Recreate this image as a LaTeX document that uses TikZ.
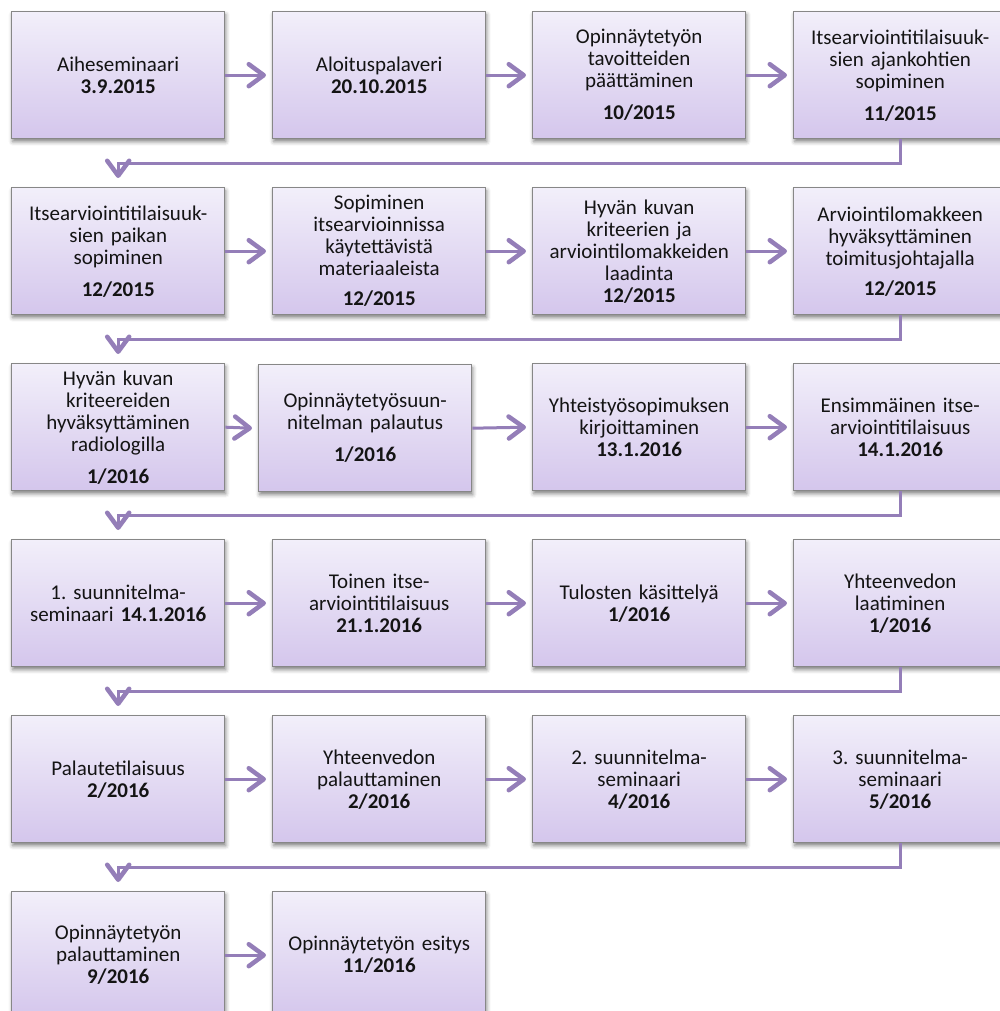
\documentclass[tikz,border=0pt]{standalone}
\usepackage{fontspec}
\setmainfont{Carlito}
\frenchspacing
\usetikzlibrary{arrows.meta,shadows.blur}
\definecolor{boxtop}{RGB}{242,239,250}
\definecolor{boxbot}{RGB}{212,198,236}
\definecolor{boxline}{RGB}{135,135,135}
\definecolor{conncol}{RGB}{148,126,184}
\definecolor{txtcol}{RGB}{20,20,20}
\tikzset{
  stepbox/.style={draw=boxline, line width=1.4pt, top color=boxtop, bottom color=boxbot,
    minimum width=213pt, minimum height=127pt, inner sep=0pt, anchor=north west,
    align=center, text width=210pt, text=txtcol,
    font=\fontsize{21}{22}\selectfont,
    blur shadow={shadow xshift=1pt, shadow yshift=-3pt, shadow blur radius=4pt, shadow opacity=50}},
  conn/.style={draw=conncol, line width=3pt,
    -{Straight Barb[length=15pt,width=22pt,line width=4.5pt,round]}},
  link/.style={draw=conncol, line width=3pt}
}
\begin{document}
\begin{tikzpicture}[x=1pt,y=-1pt]
\useasboundingbox (0,0) rectangle (1000,1011);
\clip (0,0) rectangle (1000,1011);
% row 1
\node[stepbox] (b1) at (11,11) {Aiheseminaari\\\textbf{3.9.2015}};
\node[stepbox] (b2) at (272,11) {Aloituspalaveri\\\textbf{20.10.2015}};
\node[stepbox] (b3) at (532,11) {Opinnäytetyön\\tavoitteiden\\päättäminen\\[10pt]\textbf{10/2015}};
\node[stepbox] (b4) at (793,11) {Itsearviointitilaisuuk-\\sien ajankohtien\\sopiminen\\[10pt]\textbf{11/2015}};
% row 2
\node[stepbox] (b5) at (11,187) {Itsearviointitilaisuuk-\\sien paikan\\sopiminen\\[10pt]\textbf{12/2015}};
\node[stepbox] (b6) at (272,187) {Sopiminen\\itsearvioinnissa\\käytettävistä\\materiaaleista\\[8pt]\textbf{12/2015}};
\node[stepbox] (b7) at (532,187) {Hyvän kuvan\\kriteerien ja\\arviointilomakkeiden\\laadinta\\\textbf{12/2015}};
\node[stepbox] (b8) at (793,187) {Arviointilomakkeen\\hyväksyttäminen\\toimitusjohtajalla\\[8pt]\textbf{12/2015}};
% row 3
\node[stepbox] (b9) at (11,363) {Hyvän kuvan\\kriteereiden\\hyväksyttäminen\\radiologilla\\[10pt]\textbf{1/2016}};
\node[stepbox] (b10) at (258,364) {Opinnäytetyösuun-\\nitelman palautus\\[10pt]\textbf{1/2016}};
\node[stepbox] (b11) at (532,363) {Yhteistyösopimuksen\\kirjoittaminen\\\textbf{13.1.2016}};
\node[stepbox] (b12) at (793,363) {Ensimmäinen itse-\\arviointitilaisuus\\\textbf{14.1.2016}};
% row 4
\node[stepbox] (b13) at (11,539) {1. suunnitelma-\\seminaari \textbf{14.1.2016}};
\node[stepbox] (b14) at (272,539) {Toinen itse-\\arviointitilaisuus\\\textbf{21.1.2016}};
\node[stepbox] (b15) at (532,539) {Tulosten käsittelyä\\\textbf{1/2016}};
\node[stepbox] (b16) at (793,539) {Yhteenvedon\\laatiminen\\\textbf{1/2016}};
% row 5
\node[stepbox] (b17) at (11,715) {Palautetilaisuus\\\textbf{2/2016}};
\node[stepbox] (b18) at (272,715) {Yhteenvedon\\palauttaminen\\\textbf{2/2016}};
\node[stepbox] (b19) at (532,715) {2. suunnitelma-\\seminaari\\\textbf{4/2016}};
\node[stepbox] (b20) at (793,715) {3. suunnitelma-\\seminaari\\\textbf{5/2016}};
% row 6
\node[stepbox] (b21) at (11,891) {Opinnäytetyön\\palauttaminen\\\textbf{9/2016}};
\node[stepbox] (b22) at (272,891) {Opinnäytetyön esitys\\\textbf{11/2016}};
% horizontal arrows
\foreach \a/\b in {b1/b2,b2/b3,b3/b4,b5/b6,b6/b7,b7/b8,b9/b10,b10/b11,b11/b12,
                   b13/b14,b14/b15,b15/b16,b17/b18,b18/b19,b19/b20,b21/b22}{
  \draw[conn] (\a.east) -- ([xshift=-6pt]\b.west);
}
% row-to-row connectors
\foreach \a/\b in {b4/b5,b8/b9,b12/b13,b16/b17,b20/b21}{
  \draw[conn] (\a.south) -- ++(0,24) -| ([yshift=9pt]\b.north);
}
\end{tikzpicture}
\end{document}
